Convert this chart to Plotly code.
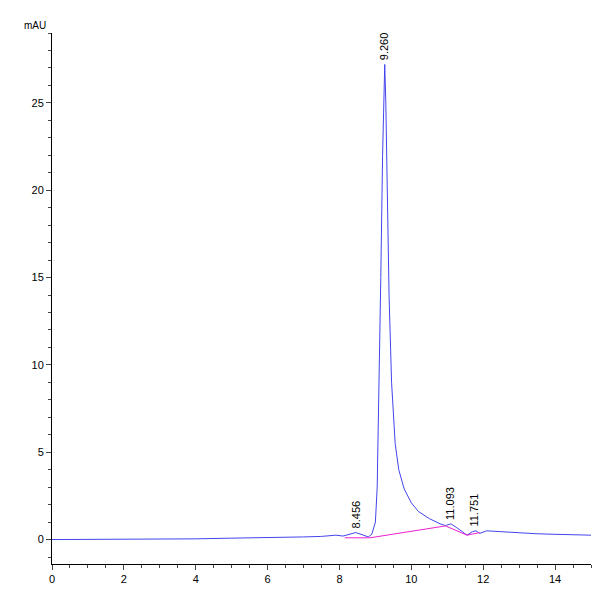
import plotly.graph_objects as go

# signal trace (min, mAU)
time = [0, 1, 2, 3, 4, 5, 6, 7, 7.5, 7.9, 8.1, 8.3, 8.45, 8.6, 8.8, 8.9, 9.0, 9.05, 9.1, 9.15, 9.2, 9.24, 9.26,
        9.29, 9.33, 9.38, 9.45, 9.55, 9.65, 9.8, 10.0, 10.2, 10.5, 10.8, 10.95, 11.1, 11.25, 11.4, 11.55,
        11.7, 11.8, 11.9, 12.1, 12.5, 13, 13.5, 14, 15]
signal = [0.0, 0.0, 0.0, 0.02, 0.04, 0.08, 0.1, 0.15, 0.18, 0.25, 0.2, 0.3, 0.4, 0.3, 0.15, 0.3, 1.0, 3.0, 8.0, 15.0, 22.0, 26.5, 27.2,
          25.0, 20.0, 14.0, 9.0, 5.5, 4.0, 2.9, 2.1, 1.6, 1.2, 0.9, 0.8, 0.9, 0.7, 0.45, 0.25,
          0.45, 0.5, 0.35, 0.5, 0.45, 0.38, 0.33, 0.3, 0.25]

# integration baselines
base_t = [[8.15, 8.85], [8.85, 10.95], [10.95, 11.55], [11.55, 11.9]]
base_y = [[0.1, 0.1], [0.1, 0.78], [0.78, 0.25], [0.25, 0.4]]

peak_t = [8.456, 9.260, 11.093, 11.751]
peak_y = [0.4, 27.2, 0.9, 0.5]
peak_labels = ["8.456", "9.260", "11.093", "11.751"]

fig = go.Figure()
fig.add_trace(go.Scatter(x=time, y=signal, mode="lines", line=dict(color="#4444ee", width=1)))
for bt, by in zip(base_t, base_y):
    fig.add_trace(go.Scatter(x=bt, y=by, mode="lines", line=dict(color="#ee22cc", width=1)))

for t, y, lab in zip(peak_t, peak_y, peak_labels):
    fig.add_annotation(x=t, y=y, text=lab, textangle=-90, showarrow=False,
                       yanchor="bottom", yshift=2, font=dict(size=11, color="black"))

fig.add_annotation(x=0, y=1, xref="paper", yref="paper", text="mAU", showarrow=False,
                   xanchor="right", yanchor="bottom", xshift=-4, font=dict(size=10, color="black"))
fig.add_annotation(x=1, y=0, xref="paper", yref="paper", text="min", showarrow=False,
                   xanchor="left", yanchor="top", yshift=-6, font=dict(size=10, color="black"))

fig.update_layout(
    width=600, height=600, showlegend=False,
    plot_bgcolor="white", paper_bgcolor="white",
    margin=dict(l=44, r=17, t=25, b=44),
    font=dict(family="Liberation Sans", size=11, color="black"),
)
fig.update_xaxes(range=[0, 15], showgrid=False, zeroline=False, showline=True, linecolor="black",
                 ticks="outside", tick0=0, dtick=2, ticklen=5,
                 minor=dict(ticks="outside", dtick=0.5, ticklen=3))
fig.update_yaxes(range=[-1.4, 29], showgrid=False, zeroline=False, showline=True, linecolor="black",
                 ticks="outside", tick0=0, dtick=5, ticklen=5,
                 minor=dict(ticks="outside", dtick=1, ticklen=3))

fig.write_html("out.html")
